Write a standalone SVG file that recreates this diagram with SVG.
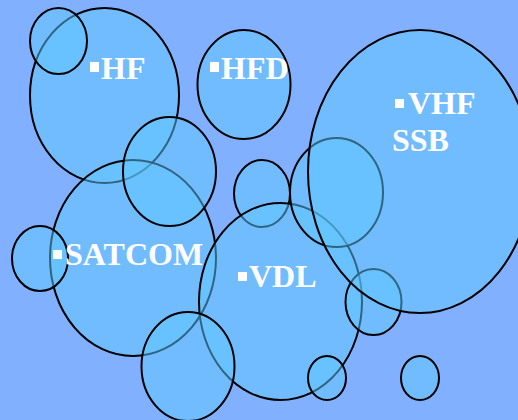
<svg xmlns="http://www.w3.org/2000/svg" width="518" height="420" viewBox="0 0 518 420">
<style>
.b{fill:rgb(96,200,255);fill-opacity:0.5;stroke:#000;stroke-width:2}
.t{fill:#fff;font-family:"Liberation Serif","Times New Roman",serif;font-weight:bold;font-size:32px}
.s{fill:#fff}
</style>
<rect width="518" height="420" fill="rgb(128,176,255)"/>
<g id="n-hf"><ellipse class="b" cx="104.5" cy="95.5" rx="74.5" ry="87.5"/></g>
<g id="n-c1"><ellipse class="b" cx="58.5" cy="41" rx="28.5" ry="33"/></g>
<g id="n-hfd"><ellipse class="b" cx="244" cy="84.5" rx="46.5" ry="54.5"/></g>
<g id="n-satcom"><ellipse class="b" cx="133" cy="258" rx="83" ry="98"/></g>
<g id="n-c2"><ellipse class="b" cx="169.5" cy="171.5" rx="46.5" ry="54.5"/></g>
<g id="n-c3"><ellipse class="b" cx="40" cy="258.5" rx="28" ry="32.5"/></g>
<g id="n-c4"><ellipse class="b" cx="262" cy="193.5" rx="28" ry="33.5"/></g>
<g id="n-vdl"><ellipse class="b" cx="280.5" cy="301.5" rx="81.5" ry="98.5"/></g>
<g id="n-c5"><ellipse class="b" cx="336.5" cy="192.5" rx="46.5" ry="54.5"/></g>
<g id="n-c6"><ellipse class="b" cx="188" cy="366.5" rx="46.5" ry="54.5"/></g>
<g id="n-c7"><ellipse class="b" cx="373.5" cy="302" rx="28" ry="33"/></g>
<g id="n-c8"><ellipse class="b" cx="327" cy="378" rx="19" ry="22"/></g>
<g id="n-vhf"><ellipse class="b" cx="420" cy="171.5" rx="112" ry="141.5"/></g>
<g id="n-c9"><ellipse class="b" cx="420" cy="378" rx="19" ry="22"/></g>
<g id="labels">
<rect class="s" x="90" y="62" width="9" height="10"/><text class="t" x="101" y="79">HF</text>
<rect class="s" x="210" y="62" width="9" height="10"/><text class="t" x="221" y="79">HFD</text>
<rect class="s" x="395" y="99" width="9" height="9"/><text class="t" x="408" y="114">VHF</text>
<text class="t" x="392" y="151">SSB</text>
<rect class="s" x="53" y="250" width="9" height="9"/><text class="t" x="65" y="265">SATCOM</text>
<rect class="s" x="238" y="272" width="9" height="9"/><text class="t" x="249" y="287">VDL</text>
</g>
<g id="connectors"/>
</svg>
